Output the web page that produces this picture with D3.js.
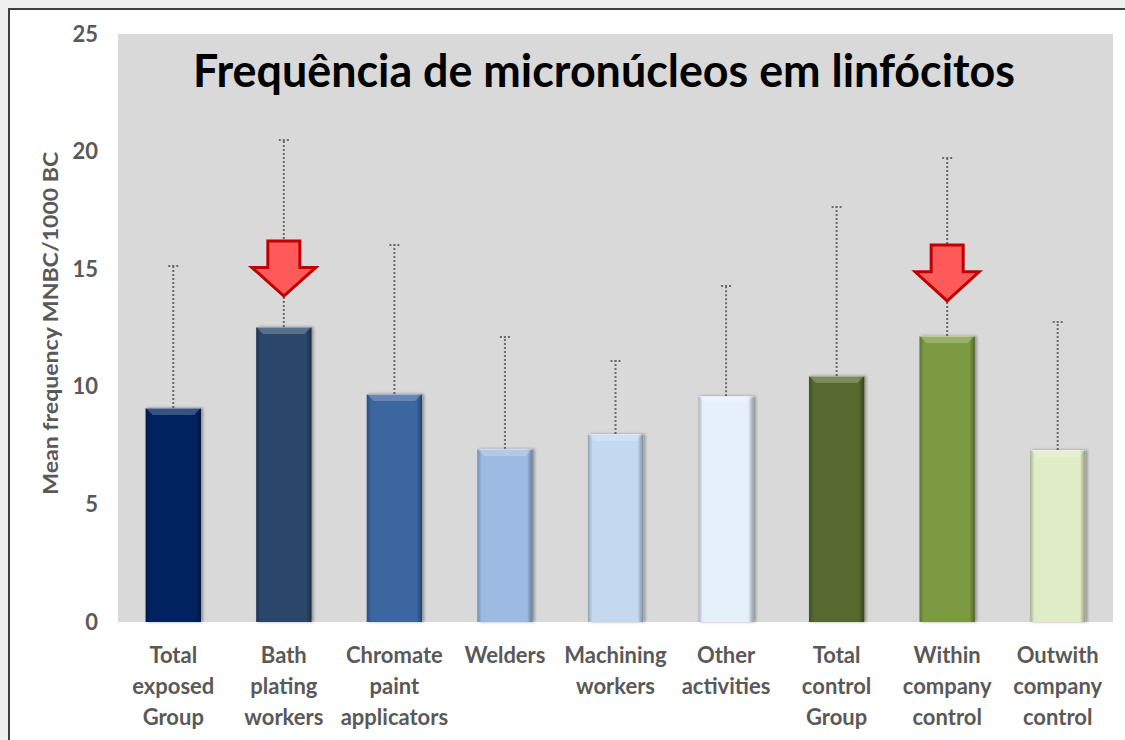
<!DOCTYPE html>
<html>
<head>
<meta charset="utf-8">
<script src="https://cdn.jsdelivr.net/npm/d3@7"></script>
<style>
  body { margin: 0; background: #f0f0f0; }
  svg { display: block; }
</style>
</head>
<body>
<svg id="chart" width="1125" height="740"></svg>
<script>
// data
const categories = [
  ['Total', 'exposed', 'Group'],
  ['Bath', 'plating', 'workers'],
  ['Chromate', 'paint', 'applicators'],
  ['Welders'],
  ['Machining', 'workers'],
  ['Other', 'activities'],
  ['Total', 'control', 'Group'],
  ['Within', 'company', 'control'],
  ['Outwith', 'company', 'control']
]
const means = [9.1, 12.54, 9.69, 7.36, 7.99, 9.6, 10.46, 12.16, 7.31]
const errUpper = [15.18, 20.54, 16.07, 12.16, 11.14, 14.33, 17.69, 19.77, 12.8]
const barColors = ['#04215f', '#2a4769', '#3a66a0', '#9dbbe2', '#c4d8f0', '#e6f0fb', '#56692e', '#7b9a42', '#e0ecc6']
const yTicks = [0, 5, 10, 15, 20, 25]
// red arrows: category index, top and tip value
const arrows = [
  { idx: 1, top: 16.2, tip: 13.86 },
  { idx: 7, top: 16.03, tip: 13.65 }
]

const svg = d3.select('#chart')
const font = 'Lato, "Open Sans", sans-serif'

// frame
svg.append('rect')
  .attr('x', 9).attr('y', 9).attr('width', 1130).attr('height', 750)
  .style('fill', '#ffffff').style('stroke', '#404040').style('stroke-width', 2)

const plot = { left: 118, right: 1113, top: 34, bottom: 622 }

const x = d3.scaleBand()
  .domain(d3.range(categories.length))
  .range([plot.left, plot.right])
  .paddingInner(0.5).paddingOuter(0.25)

const y = d3.scaleLinear().domain([0, 25]).range([plot.bottom, plot.top])

svg.append('rect')
  .attr('x', plot.left).attr('y', plot.top)
  .attr('width', plot.right - plot.left).attr('height', plot.bottom - plot.top)
  .style('fill', '#d9d9d9')

const defs = svg.append('defs')
const sideGrad = defs.append('linearGradient').attr('id', 'side').attr('x1', 0).attr('x2', 1).attr('y1', 0).attr('y2', 0)
sideGrad.append('stop').attr('offset', '0').attr('stop-color', '#000').attr('stop-opacity', 0.25)
sideGrad.append('stop').attr('offset', '0.08').attr('stop-color', '#000').attr('stop-opacity', 0)
sideGrad.append('stop').attr('offset', '0.9').attr('stop-color', '#000').attr('stop-opacity', 0)
sideGrad.append('stop').attr('offset', '1').attr('stop-color', '#000').attr('stop-opacity', 0.35)

const shadow = defs.append('filter').attr('id', 'shadow').attr('x', -0.2).attr('y', -0.2).attr('width', 1.4).attr('height', 1.4)
shadow.append('feDropShadow').attr('dx', 2).attr('dy', 0).attr('stdDeviation', 1.5)
  .attr('flood-color', '#000').attr('flood-opacity', 0.35)

// y axis
const yAxis = svg.append('g')
  .attr('transform', `translate(${plot.left - 20},0)`)
  .call(d3.axisLeft(y).tickValues(yTicks).tickSize(0).tickPadding(0))
yAxis.select('.domain').remove()
yAxis.selectAll('text')
  .style('font-family', font).style('font-size', '22px').style('font-weight', 'bold')
  .style('fill', '#595959')

svg.append('text')
  .attr('transform', `translate(58,${y(12.7)}) rotate(-90)`)
  .attr('text-anchor', 'middle')
  .attr('textLength', 343).attr('lengthAdjust', 'spacingAndGlyphs')
  .style('font-family', font).style('font-size', '20px').style('font-weight', 'bold')
  .style('fill', '#595959')
  .text('Mean frequency MNBC/1000 BC')

// error bars (upper only, dotted)
const err = svg.append('g')
categories.forEach((c, i) => {
  const cx = x(i) + x.bandwidth() / 2
  err.append('line')
    .attr('x1', cx).attr('x2', cx).attr('y1', y(means[i])).attr('y2', y(errUpper[i]))
    .style('stroke', '#6b6b6b').style('stroke-width', 2).style('stroke-dasharray', '2,2')
  err.append('line')
    .attr('x1', cx - 5).attr('x2', cx + 6).attr('y1', y(errUpper[i]) + 1).attr('y2', y(errUpper[i]) + 1)
    .style('stroke', '#6b6b6b').style('stroke-width', 2).style('stroke-dasharray', '2,2')
})

// bars with bevel
const bars = svg.append('g')
categories.forEach((c, i) => {
  const bx = x(i)
  const bw = x.bandwidth()
  const by = y(means[i])
  const bh = y(0) - by
  const g = bars.append('g')
  g.append('rect')
    .attr('x', bx).attr('y', by).attr('width', bw).attr('height', bh)
    .style('fill', barColors[i]).attr('filter', 'url(#shadow)')
  g.append('rect')
    .attr('x', bx).attr('y', by).attr('width', bw).attr('height', bh)
    .style('fill', 'url(#side)')
  const bev = 7
  g.append('path')
    .attr('d', `M${bx},${by}L${bx + bw},${by}L${bx + bw - bev},${by + bev}L${bx + bev},${by + bev}Z`)
    .style('fill', '#fff').style('fill-opacity', 0.22)
  g.append('line')
    .attr('x1', bx).attr('x2', bx + bw).attr('y1', by + 0.5).attr('y2', by + 0.5)
    .style('stroke', '#fff').style('stroke-opacity', 0.35)
})

// category labels
const labels = svg.append('g')
categories.forEach((lines, i) => {
  const t = labels.append('text')
    .attr('x', x(i) + x.bandwidth() / 2).attr('y', 663)
    .attr('text-anchor', 'middle')
    .style('font-family', font).style('font-size', '22px').style('font-weight', 'bold')
    .style('fill', '#595959')
  lines.forEach((l, k) => {
    t.append('tspan').attr('x', x(i) + x.bandwidth() / 2).attr('dy', k === 0 ? 0 : 31).text(l)
  })
})

// red arrows
arrows.forEach(a => {
  const cx = x(a.idx) + x.bandwidth() / 2
  const yt = y(a.top)
  const yp = y(a.tip)
  const yh = yt + (yp - yt) * 0.48
  const sw = 16
  const hw = 32
  svg.append('path')
    .attr('d', `M${cx - sw},${yt}L${cx + sw},${yt}L${cx + sw},${yh}L${cx + hw},${yh}L${cx},${yp}L${cx - hw},${yh}L${cx - sw},${yh}Z`)
    .style('fill', '#ff5a5a').style('stroke', '#c00000').style('stroke-width', 3)
    .style('stroke-linejoin', 'miter')
})

// title
svg.append('text')
  .attr('x', 604).attr('y', 87)
  .attr('text-anchor', 'middle')
  .attr('textLength', 822).attr('lengthAdjust', 'spacingAndGlyphs')
  .style('font-family', font).style('font-size', '45px').style('font-weight', 'bold')
  .style('fill', '#000')
  .text('Frequência de micronúcleos em linfócitos')
</script>
</body>
</html>
